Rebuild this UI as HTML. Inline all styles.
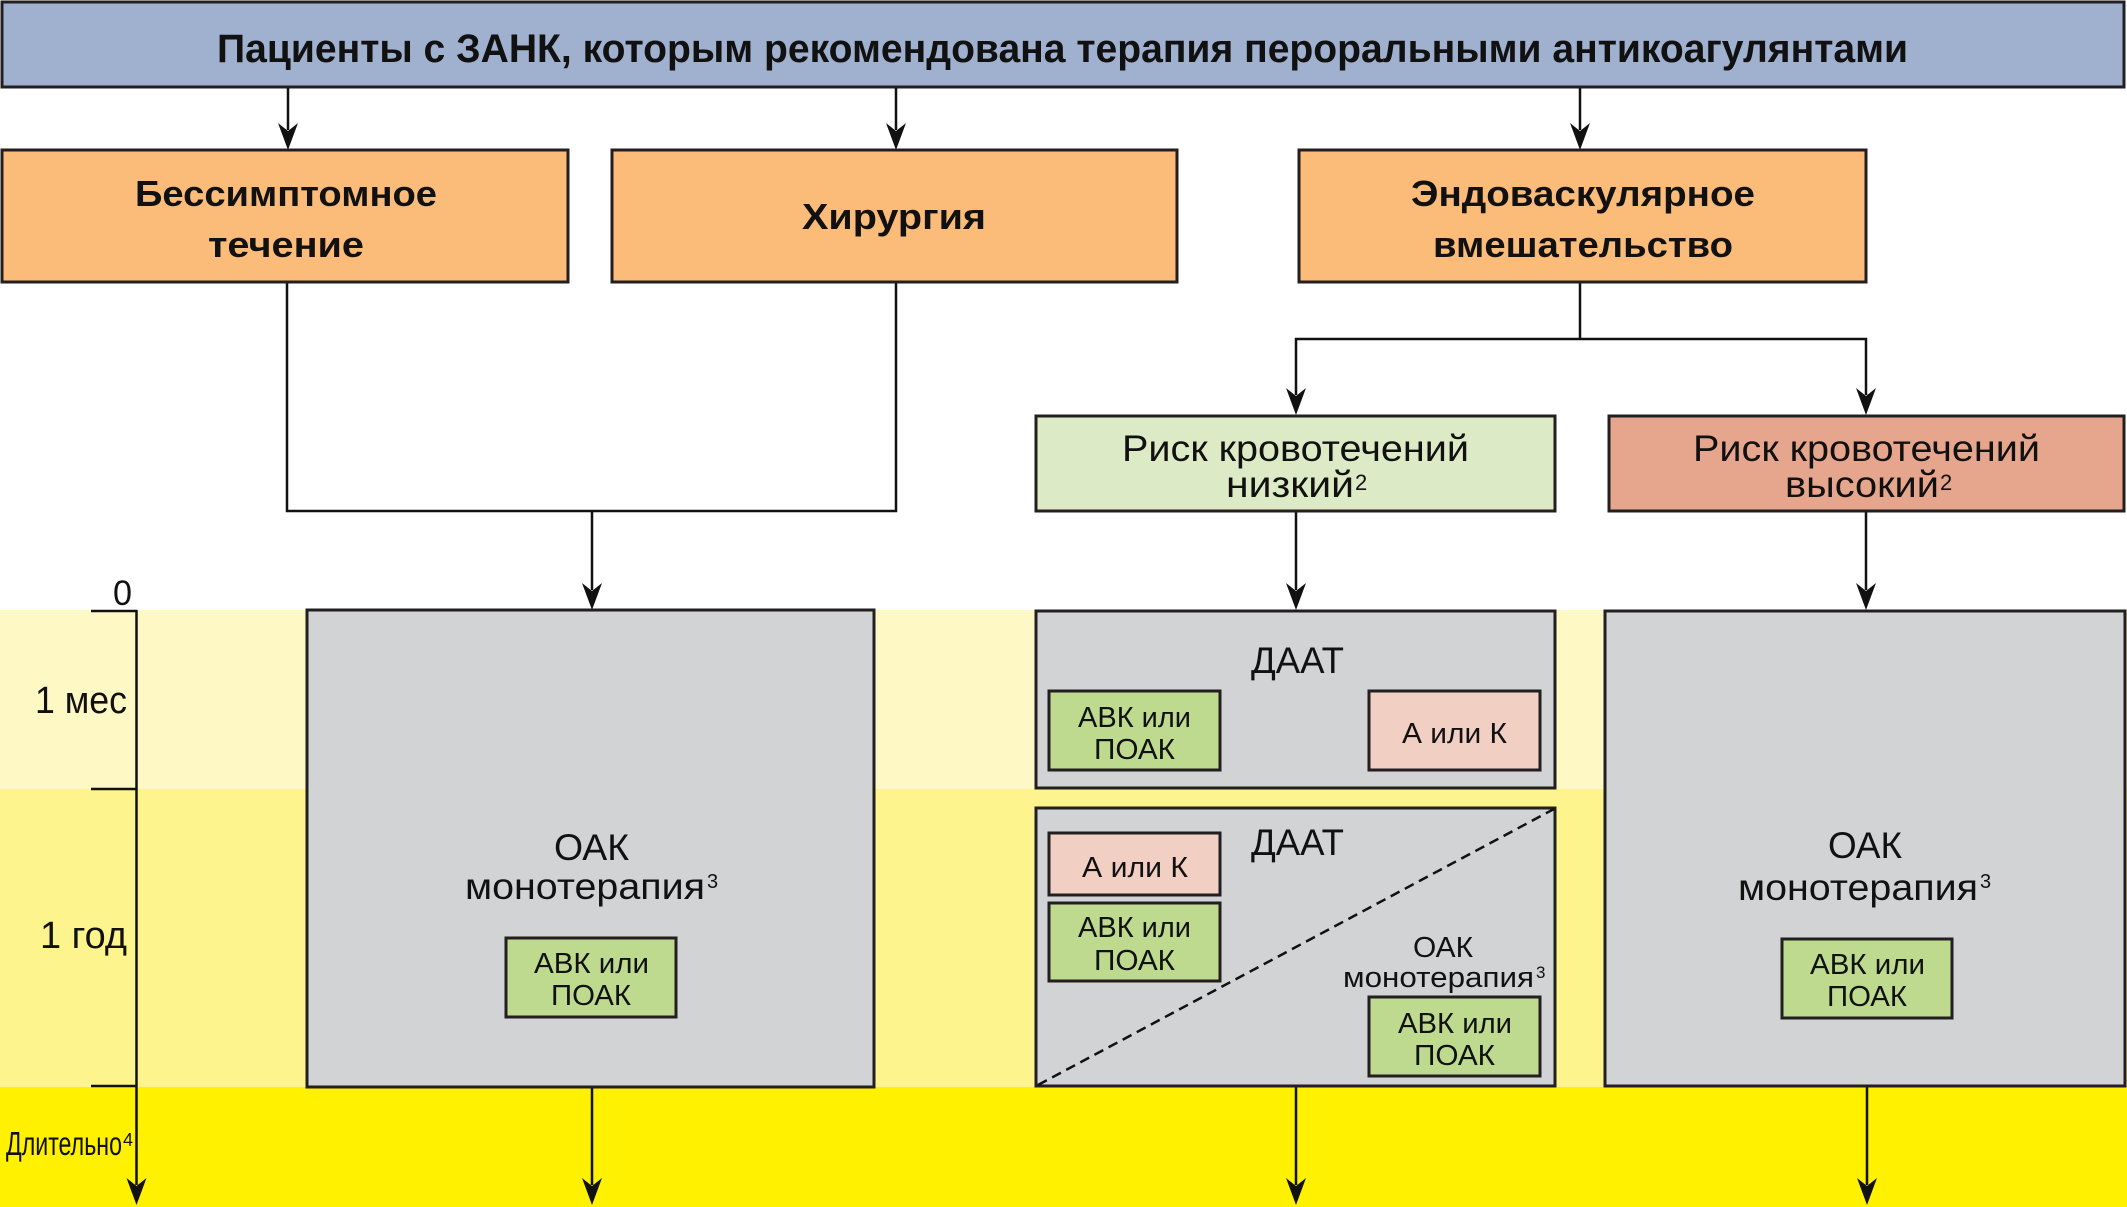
<!DOCTYPE html>
<html>
<head>
<meta charset="utf-8">
<style>
  html,body{margin:0;padding:0;background:#fff;}
  svg{display:block;}
  text{font-family:"Liberation Sans","DejaVu Sans",sans-serif;fill:#111;}
  .b{font-weight:bold;}
</style>
</head>
<body>
<svg width="2127" height="1207" viewBox="0 0 2127 1207" xmlns="http://www.w3.org/2000/svg">
  <!-- time bands -->
  <rect x="0" y="610" width="2127" height="179" fill="#fef9c4"/>
  <rect x="0" y="789" width="2127" height="298" fill="#fef48d"/>
  <rect x="0" y="1087" width="2127" height="120" fill="#fff100"/>

  <!-- title -->
  <rect x="2" y="2" width="2122" height="85" fill="#a0b0cf" stroke="#231f20" stroke-width="3"/>
  <text class="b" x="217" y="62" font-size="40" textLength="1691" lengthAdjust="spacingAndGlyphs">Пациенты с ЗАНК, которым рекомендована терапия пероральными антикоагулянтами</text>

  <!-- connectors top -->
  <g stroke="#111" stroke-width="2.5" fill="none">
    <line x1="288" y1="88" x2="288" y2="130"/>
    <line x1="896" y1="88" x2="896" y2="130"/>
    <line x1="1580" y1="88" x2="1580" y2="130"/>
    <polyline points="287,282 287,511 896,511 896,282"/>
    <line x1="592" y1="511" x2="592" y2="590"/>
    <polyline points="1580,282 1580,339"/>
    <polyline points="1296,395 1296,339 1866,339 1866,395"/>
    <line x1="1296" y1="511" x2="1296" y2="590"/>
    <line x1="1866" y1="511" x2="1866" y2="590"/>
    <line x1="592" y1="1087" x2="592" y2="1185"/>
    <line x1="1296" y1="1087" x2="1296" y2="1185"/>
    <line x1="1867" y1="1087" x2="1867" y2="1185"/>
    <line x1="136.5" y1="610" x2="136.5" y2="1185"/>
    <line x1="91" y1="611" x2="137" y2="611"/>
    <line x1="91" y1="789" x2="137" y2="789"/>
    <line x1="91" y1="1086" x2="137" y2="1086"/>
  </g>
  <!-- arrowheads -->
  <g fill="#111">
    <path d="M288 150 L278 123 L288 131 L298 123 Z"/>
    <path d="M896 150 L886 123 L896 131 L906 123 Z"/>
    <path d="M1580 150 L1570 123 L1580 131 L1590 123 Z"/>
    <path d="M592 610 L582 583 L592 591 L602 583 Z"/>
    <path d="M1296 415 L1286 388 L1296 396 L1306 388 Z"/>
    <path d="M1866 415 L1856 388 L1866 396 L1876 388 Z"/>
    <path d="M1296 610 L1286 583 L1296 591 L1306 583 Z"/>
    <path d="M1866 610 L1856 583 L1866 591 L1876 583 Z"/>
    <path d="M592 1205 L582 1178 L592 1186 L602 1178 Z"/>
    <path d="M1296 1205 L1286 1178 L1296 1186 L1306 1178 Z"/>
    <path d="M1867 1205 L1857 1178 L1867 1186 L1877 1178 Z"/>
    <path d="M136.5 1205 L126.5 1178 L136.5 1186 L146.5 1178 Z"/>
  </g>

  <!-- orange boxes -->
  <g fill="#fbbb79" stroke="#231f20" stroke-width="3">
    <rect x="2" y="150" width="566" height="132"/>
    <rect x="612" y="150" width="565" height="132"/>
    <rect x="1299" y="150" width="567" height="132"/>
  </g>
  <text class="b" x="135" y="206" font-size="36" textLength="302" lengthAdjust="spacingAndGlyphs">Бессимптомное</text>
  <text class="b" x="208" y="257" font-size="36" textLength="156" lengthAdjust="spacingAndGlyphs">течение</text>
  <text class="b" x="802" y="229" font-size="36" textLength="184" lengthAdjust="spacingAndGlyphs">Хирургия</text>
  <text class="b" x="1411" y="206" font-size="36" textLength="344" lengthAdjust="spacingAndGlyphs">Эндоваскулярное</text>
  <text class="b" x="1433" y="257" font-size="36" textLength="300" lengthAdjust="spacingAndGlyphs">вмешательство</text>

  <!-- risk boxes -->
  <rect x="1036" y="416" width="519" height="95" fill="#dcebc5" stroke="#231f20" stroke-width="3"/>
  <rect x="1609" y="416" width="515" height="95" fill="#e6a58d" stroke="#231f20" stroke-width="3"/>
  <text x="1122" y="461" font-size="37" textLength="347" lengthAdjust="spacingAndGlyphs">Риск кровотечений</text>
  <text x="1226" y="497" font-size="37" textLength="128" lengthAdjust="spacingAndGlyphs">низкий</text>
  <text x="1355" y="490" font-size="22">2</text>
  <text x="1693" y="461" font-size="37" textLength="347" lengthAdjust="spacingAndGlyphs">Риск кровотечений</text>
  <text x="1785" y="497" font-size="37" textLength="154" lengthAdjust="spacingAndGlyphs">высокий</text>
  <text x="1940" y="490" font-size="22">2</text>

  <!-- gray boxes -->
  <g fill="#d1d3d4" stroke="#231f20" stroke-width="3">
    <rect x="307" y="610" width="567" height="477"/>
    <rect x="1036" y="611" width="519" height="177"/>
    <rect x="1036" y="808" width="519" height="278"/>
    <rect x="1605" y="611" width="520" height="475"/>
  </g>

  <!-- left gray content -->
  <text x="554" y="860" font-size="37" textLength="75" lengthAdjust="spacingAndGlyphs">ОАК</text>
  <text x="465" y="899" font-size="37" textLength="240" lengthAdjust="spacingAndGlyphs">монотерапия</text>
  <text x="707" y="888" font-size="20">3</text>
  <rect x="506" y="938" width="170" height="79" fill="#bdda8f" stroke="#231f20" stroke-width="3"/>
  <text x="534" y="973" font-size="29" textLength="115" lengthAdjust="spacingAndGlyphs">АВК или</text>
  <text x="551" y="1005" font-size="29" textLength="80" lengthAdjust="spacingAndGlyphs">ПОАК</text>

  <!-- right gray content -->
  <text x="1828" y="858" font-size="37" textLength="74" lengthAdjust="spacingAndGlyphs">ОАК</text>
  <text x="1738" y="900" font-size="37" textLength="240" lengthAdjust="spacingAndGlyphs">монотерапия</text>
  <text x="1980" y="888" font-size="20">3</text>
  <rect x="1782" y="939" width="170" height="79" fill="#bdda8f" stroke="#231f20" stroke-width="3"/>
  <text x="1810" y="974" font-size="29" textLength="115" lengthAdjust="spacingAndGlyphs">АВК или</text>
  <text x="1827" y="1006" font-size="29" textLength="80" lengthAdjust="spacingAndGlyphs">ПОАК</text>

  <!-- middle upper -->
  <text x="1251" y="673" font-size="37" textLength="93" lengthAdjust="spacingAndGlyphs">ДААТ</text>
  <rect x="1049" y="691" width="171" height="79" fill="#bdda8f" stroke="#231f20" stroke-width="3"/>
  <text x="1078" y="727" font-size="29" textLength="113" lengthAdjust="spacingAndGlyphs">АВК или</text>
  <text x="1094" y="759" font-size="29" textLength="81" lengthAdjust="spacingAndGlyphs">ПОАК</text>
  <rect x="1369" y="691" width="171" height="79" fill="#f2cfc3" stroke="#231f20" stroke-width="3"/>
  <text x="1402" y="743" font-size="29" textLength="105" lengthAdjust="spacingAndGlyphs">А или К</text>

  <!-- middle lower -->
  <line x1="1038" y1="1085" x2="1554" y2="809" stroke="#111" stroke-width="2.5" stroke-dasharray="10 6"/>
  <text x="1251" y="855" font-size="37" textLength="93" lengthAdjust="spacingAndGlyphs">ДААТ</text>
  <rect x="1049" y="833" width="171" height="62" fill="#f2cfc3" stroke="#231f20" stroke-width="3"/>
  <text x="1082" y="877" font-size="29" textLength="106" lengthAdjust="spacingAndGlyphs">А или К</text>
  <rect x="1049" y="903" width="171" height="78" fill="#bdda8f" stroke="#231f20" stroke-width="3"/>
  <text x="1078" y="937" font-size="29" textLength="113" lengthAdjust="spacingAndGlyphs">АВК или</text>
  <text x="1094" y="970" font-size="29" textLength="81" lengthAdjust="spacingAndGlyphs">ПОАК</text>
  <text x="1413" y="957" font-size="29" textLength="60" lengthAdjust="spacingAndGlyphs">ОАК</text>
  <text x="1343" y="987" font-size="29" textLength="191" lengthAdjust="spacingAndGlyphs">монотерапия</text>
  <text x="1536" y="978" font-size="17">3</text>
  <rect x="1369" y="997" width="171" height="79" fill="#bdda8f" stroke="#231f20" stroke-width="3"/>
  <text x="1398" y="1033" font-size="29" textLength="114" lengthAdjust="spacingAndGlyphs">АВК или</text>
  <text x="1414" y="1065" font-size="29" textLength="81" lengthAdjust="spacingAndGlyphs">ПОАК</text>

  <!-- axis labels -->
  <text x="113" y="605" font-size="35" textLength="19" lengthAdjust="spacingAndGlyphs">0</text>
  <text x="35" y="713" font-size="38" textLength="92" lengthAdjust="spacingAndGlyphs">1 мес</text>
  <text x="40" y="948" font-size="38" textLength="87" lengthAdjust="spacingAndGlyphs">1 год</text>
  <text x="6" y="1155" font-size="33" textLength="116" lengthAdjust="spacingAndGlyphs">Длительно</text>
  <text x="123" y="1146" font-size="18">4</text>
</svg>
</body>
</html>
